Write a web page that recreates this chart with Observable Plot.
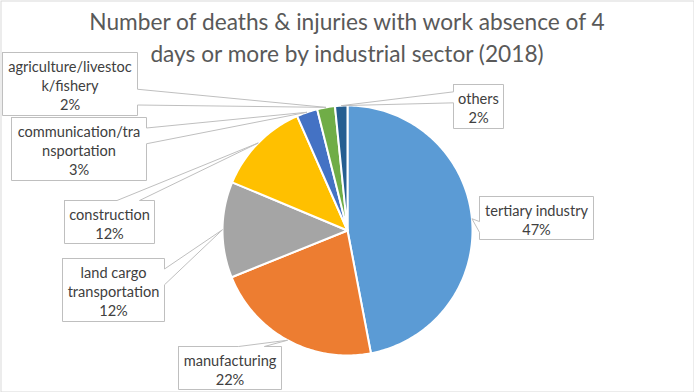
<!DOCTYPE html>
<html><head><meta charset="utf-8">
<script src="https://cdn.jsdelivr.net/npm/d3@7"></script>
<script src="https://cdn.jsdelivr.net/npm/@observablehq/plot@0.6"></script>
<style>
body{margin:0;background:#fff;}
#chart{position:relative;width:694px;height:392px;font-family:Lato,"Open Sans",sans-serif;}
#chart svg{position:absolute;left:0;top:0;}
#title{position:absolute;left:0;top:6px;width:694px;text-align:center;color:#595959;font-size:22.7px;line-height:32px;z-index:2;}
</style></head>
<body>
<div id="chart"><div id="title">Number of deaths &amp; injuries with work absence of 4<br>days or more by industrial sector (2018)</div></div>
<script>
// ---- data ----
const sectors = ["tertiary industry", "manufacturing", "land cargo transportation", "construction",
  "communication/transportation", "agriculture/livestock/fishery", "others"];
const shares = [47.0, 21.9, 12.4, 12.1, 2.7, 2.3, 1.6];
const pctLabels = ["47%", "22%", "12%", "12%", "3%", "2%", "2%"];
// label text as wrapped in the original
const labelLines = [["tertiary industry"], ["manufacturing"], ["land cargo", "transportation"], ["construction"],
  ["communication/tra", "nsportation"], ["agriculture/livestoc", "k/fishery"], ["others"]];
const colors = ["#5B9BD5", "#ED7D31", "#A5A5A5", "#FFC000", "#4472C4", "#70AD47", "#255E91"];

// ---- layout ----
const W = 694, H = 392;
const pie = {cx: 347, cy: 230, r: 125};
// label box edges [x0, y0, x1, y1]
const labelBoxes = [[479,196,593,239],[178,346,281,389],[62,258,164,321],[64,200,154,243],
  [11,117,146,180],[2,52,137,115],[453,84,503,128]];

const total = d3.sum(shares);
const pt = (a, r) => [pie.cx + r * Math.sin(a), pie.cy - r * Math.cos(a)];

// slice polygons
const slicePts = [];
let acc = 0;
const mids = [];
sectors.forEach((s, i) => {
  const a0 = acc / total * 2 * Math.PI;
  acc += shares[i];
  const a1 = acc / total * 2 * Math.PI;
  mids.push((a0 + a1) / 2);
  const n = Math.max(2, Math.ceil((a1 - a0) / (Math.PI / 180)));
  slicePts.push({s, i, x: pie.cx, y: pie.cy});
  for (let k = 0; k <= n; k++) {
    const [x, y] = pt(a0 + (a1 - a0) * k / n, pie.r);
    slicePts.push({s, i, x, y});
  }
  slicePts.push({s, i, x: pie.cx, y: pie.cy});
});

// callout shapes (rect with wedge pointer, like Excel's data callout)
const calloutPts = [];
const labelData = [];
sectors.forEach((s, i) => {
  const [x0, y0, x1, y1] = labelBoxes[i];
  const w = x1 - x0, h = y1 - y0, mx = (x0 + x1) / 2, my = (y0 + y1) / 2;
  const [tx, ty] = pt(mids[i], pie.r);
  const dx = tx - mx, dy = ty - my;
  let poly;
  if (Math.abs(dx) * h > Math.abs(dy) * w) {
    const b = dy > 0 ? [y0 + h * 7 / 12, y0 + h * 10 / 12] : [y0 + h * 2 / 12, y0 + h * 5 / 12];
    if (dx > 0) poly = [[x0,y0],[x1,y0],[x1,b[0]],[tx,ty],[x1,b[1]],[x1,y1],[x0,y1],[x0,y0]];
    else poly = [[x0,y0],[x1,y0],[x1,y1],[x0,y1],[x0,b[1]],[tx,ty],[x0,b[0]],[x0,y0]];
  } else {
    const b = dx > 0 ? [x0 + w * 7 / 12, x0 + w * 10 / 12] : [x0 + w * 2 / 12, x0 + w * 5 / 12];
    if (dy < 0) poly = [[x0,y0],[b[0],y0],[tx,ty],[b[1],y0],[x1,y0],[x1,y1],[x0,y1],[x0,y0]];
    else poly = [[x0,y0],[x1,y0],[x1,y1],[b[1],y1],[tx,ty],[b[0],y1],[x0,y1],[x0,y0]];
  }
  poly.forEach(([x, y]) => calloutPts.push({s, x, y}));
  labelData.push({s, x: mx, y: my + 1, text: [...labelLines[i], pctLabels[i]].join("\n")});
});

const chart = Plot.plot({
  width: W, height: H,
  margin: 0,
  x: {domain: [0, W], range: [0, W], axis: null},
  y: {domain: [0, H], range: [0, H], axis: null},
  color: {type: "identity"},
  style: {background: "transparent", fontFamily: "Lato, 'Open Sans', sans-serif"},
  marks: [
    Plot.line(slicePts, {x: "x", y: "y", z: "s", fill: d => colors[d.i], stroke: "white", strokeWidth: 2, strokeLinejoin: "round", curve: "linear"}),
    Plot.line(calloutPts, {x: "x", y: "y", z: "s", fill: "white", stroke: "#BFBFBF", strokeWidth: 1, curve: "linear"}),
    Plot.text(labelData, {x: "x", y: "y", text: "text", fill: "#404040", fontSize: 14.6, lineHeight: 1.3, lineAnchor: "middle"}),
    Plot.frame({stroke: "#D9D9D9", inset: 0.5})
  ]
});
document.getElementById("chart").appendChild(chart);
</script>
</body></html>
